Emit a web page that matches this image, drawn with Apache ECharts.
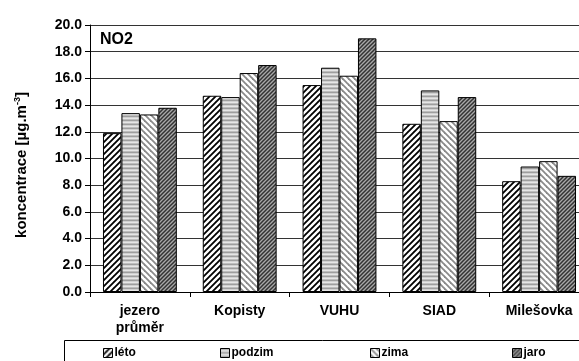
<!DOCTYPE html>
<html>
<head>
<meta charset="utf-8">
<script src="https://cdn.jsdelivr.net/npm/echarts@6/dist/echarts.min.js"></script>
<style>
  html, body { margin: 0; padding: 0; background: #fff; }
  #chart { width: 579px; height: 361px; }
</style>
</head>
<body>
<div id="chart"></div>
<script>
// Stations and seasonal NO2 means (µg.m-3)
const categories = ['jezero\nprůměr', 'Kopisty', 'VUHU', 'SIAD', 'Milešovka'];
const seasonNames = ['léto', 'podzim', 'zima', 'jaro'];
const leto   = [11.9, 14.7, 15.5, 12.6, 8.3];
const podzim = [13.4, 14.6, 16.8, 15.1, 9.4];
const zima   = [13.3, 16.4, 16.2, 12.8, 9.8];
const jaro   = [13.8, 17.0, 19.0, 14.6, 8.7];
const yTicks = [0, 2, 4, 6, 8, 10, 12, 14, 16, 18, 20];

const FONT = '"Liberation Sans", Arial, sans-serif';

// Fill patterns, one tile per season
function tile(size, draw) {
  const c = document.createElement('canvas');
  c.width = size; c.height = size;
  const g = c.getContext('2d');
  draw(g, size);
  return { image: c, repeat: 'repeat' };
}
function diag(g, s, dir, color, w) {
  g.strokeStyle = color; g.lineWidth = w; g.lineCap = 'square';
  for (let k = -1; k <= 1; k++) {
    g.beginPath();
    if (dir > 0) { g.moveTo(k * s, s); g.lineTo(k * s + s, 0); }
    else { g.moveTo(k * s, 0); g.lineTo(k * s + s, s); }
    g.stroke();
  }
}
const patLeto = tile(6, (g, s) => {
  g.fillStyle = '#fff'; g.fillRect(0, 0, s, s);
  diag(g, s, 1, '#000', 1.8);
});
const patPodzim = tile(4, (g, s) => {
  const rows = ['#9e9e9e', '#d0d0d0', '#e6e6e6', '#bdbdbd'];
  rows.forEach((c, i) => { g.fillStyle = c; g.fillRect(0, i, s, 1); });
});
const patZima = tile(6, (g, s) => {
  g.fillStyle = '#fff'; g.fillRect(0, 0, s, s);
  diag(g, s, -1, '#8a8a8a', 1.8);
});
const patJaro = tile(4, (g, s) => {
  g.fillStyle = '#a8a8a8'; g.fillRect(0, 0, s, s);
  diag(g, s, 1, '#333', 1.5);
});

const seriesData = [leto, podzim, zima, jaro];
const patterns = [patLeto, patPodzim, patZima, patJaro];
const legendX = [103, 220, 370, 512];

const chart = echarts.init(document.getElementById('chart'), null, { renderer: 'canvas' });

chart.setOption({
  animation: false,
  backgroundColor: '#fff',
  // plot area runs a little past the right edge of the canvas
  grid: { left: 90, top: 25, bottom: 69, width: 499, containLabel: false, outerBoundsMode: 'none' },
  graphic: [
    {
      type: 'rect', z: 0, silent: true,
      shape: { x: 64.5, y: 340.5, width: 600, height: 60 },
      style: { fill: '#fff', stroke: '#000', lineWidth: 1 }
    },
    {
      type: 'text', left: 100, top: 32, z: 10,
      style: { text: 'NO2', font: 'bold 16px ' + FONT, fill: '#000' }
    },
    {
      type: 'text', z: 10, x: 22, y: 165, rotation: Math.PI / 2,
      style: {
        text: 'koncentrace [µg.m{sup|-3}]',
        fontFamily: FONT, fontWeight: 'bold', fontSize: 15, fill: '#000',
        align: 'center', verticalAlign: 'middle',
        rich: { sup: { fontSize: 9, fontWeight: 'bold', fontFamily: FONT, fill: '#000', padding: [0, 0, 8, 0] } }
      }
    }
  ],
  legend: seasonNames.map((n, i) => ({
    data: [n],
    left: legendX[i],
    top: 347,
    itemWidth: 9,
    itemHeight: 9,
    itemGap: 0,
    padding: 0,
    selectedMode: false,
    icon: 'rect',
    textStyle: { fontFamily: FONT, fontWeight: 'bold', fontSize: 12, color: '#000', padding: [0, 0, 0, -3] },
    itemStyle: { borderColor: '#000', borderWidth: 1 }
  })),
  xAxis: {
    type: 'category',
    data: categories,
    axisLine: { lineStyle: { color: '#000', width: 1 } },
    axisTick: { show: true, length: 5, lineStyle: { color: '#000' } },
    axisLabel: {
      margin: 11, color: '#000', fontFamily: FONT, fontWeight: 'bold',
      fontSize: 14, lineHeight: 17, interval: 0
    }
  },
  yAxis: {
    type: 'value',
    min: yTicks[0],
    max: yTicks[yTicks.length - 1],
    interval: 2,
    axisLine: { show: true, lineStyle: { color: '#000', width: 1 } },
    axisTick: { show: true, length: 5, lineStyle: { color: '#000' } },
    axisLabel: {
      margin: 8, color: '#000', fontFamily: FONT, fontWeight: 'bold', fontSize: 14,
      formatter: v => v.toFixed(1)
    },
    splitLine: { show: true, lineStyle: { color: '#333', width: 1 } }
  },
  series: seriesData.map((d, i) => ({
    name: seasonNames[i],
    type: 'bar',
    data: d,
    barGap: '0%',
    barCategoryGap: '26%',
    itemStyle: { color: patterns[i], borderColor: '#000', borderWidth: 1 },
    emphasis: { disabled: true }
  }))
});
</script>
</body>
</html>
